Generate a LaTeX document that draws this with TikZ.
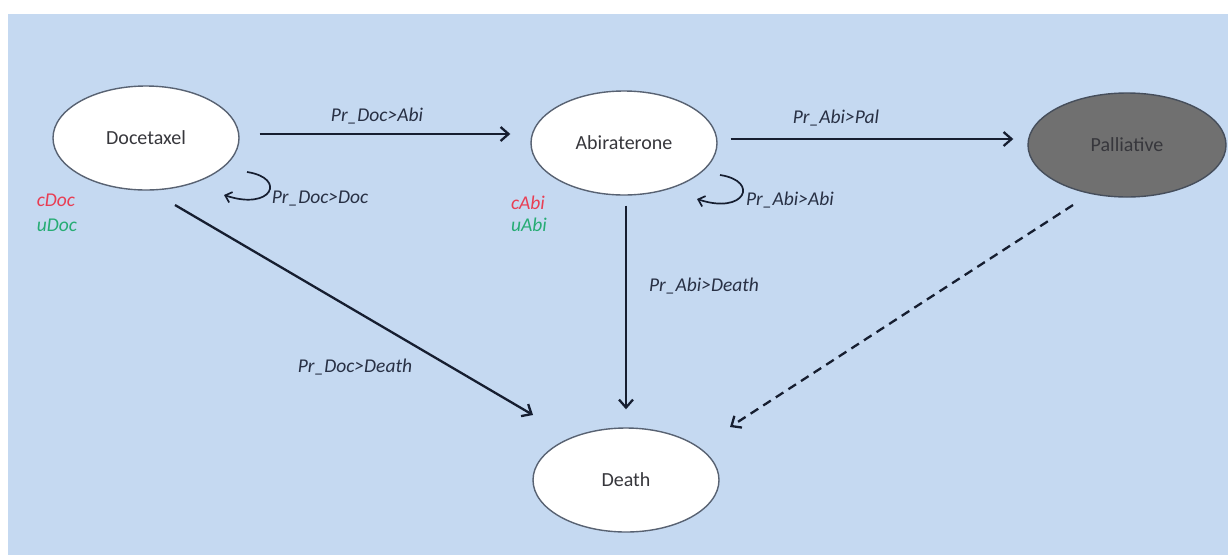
\documentclass[tikz,border=0pt]{standalone}
\usepackage{fontspec}
\setmainfont{Carlito}
\usetikzlibrary{arrows.meta,shapes.geometric,calc}

\definecolor{panel}{RGB}{197,217,241}
\definecolor{wire}{RGB}{22,30,48}
\definecolor{rim}{RGB}{88,98,114}
\definecolor{stateink}{RGB}{55,55,60}
\definecolor{probink}{RGB}{40,48,68}
\definecolor{palfill}{RGB}{112,112,112}
\definecolor{costred}{RGB}{232,62,84}
\definecolor{utilgreen}{RGB}{38,172,116}

\tikzset{
  state/.style={ellipse, draw=rim, line width=1.4pt, fill=white,
    minimum width=186pt, minimum height=104pt, inner sep=0pt,
    font=\fontsize{20}{22}\selectfont, text=stateink},
  prob/.style={font=\fontsize{19.5}{21}\selectfont\itshape, text=probink, inner sep=0pt},
  tag/.style={font=\fontsize{19.5}{21}\selectfont\itshape, inner sep=0pt},
  arr/.style={draw=wire, line width=2.3pt,
    -{Straight Barb[length=8pt,width=14pt,line width=2.3pt]}},
  loop/.style={draw=wire, line width=1.7pt,
    -{Straight Barb[length=6pt,width=11pt,line width=1.7pt]}},
}

\begin{document}
\begin{tikzpicture}[x=1pt,y=-1pt]
  \useasboundingbox (0,0) rectangle (1228,555);
  \fill[panel] (8,14) rectangle (1228,555);

  % health states
  \node[state] (doc) at (146,138) {Docetaxel};
  \node[state] (abi) at (624,143) {Abiraterone};
  \node[state, fill=palfill, draw=rim!80!black, minimum width=198pt] (pal) at (1127,145) {Palliative};
  \node[state] (death) at (626,480) {Death};

  % cost and utility tags
  \node[tag, text=costred] (cdoc) at (56,200) {cDoc};
  \node[tag, text=utilgreen] (udoc) at (57,225) {uDoc};
  \node[tag, text=costred] (cabi) at (528,203) {cAbi};
  \node[tag, text=utilgreen] (uabi) at (529,225) {uAbi};

  % forward transitions
  \draw[arr] ($(doc.east)+(20,-4)$) -- ($(abi.west)+(-20,-9)$);
  \draw[arr] ($(abi.east)+(13,-4)$) -- ($(pal.west)+(-14,-6)$);
  \draw[arr] ($(doc.center)+(29,67)$) -- ($(death.center)+(-93,-65)$);
  \draw[arr] ($(abi.south)+(2,10)$) -- ($(death.north)+(0,-18)$);
  \draw[arr, dashed, dash pattern=on 9pt off 6pt] ($(pal.center)+(-54,60)$) -- ($(death.center)+(104,-53)$);

  % staying in the same state
  \draw[loop] ($(doc.center)+(101,34)$) .. controls +(40,6) and +(48,16) .. ($(doc.center)+(78,57)$);
  \draw[loop] ($(abi.center)+(96,32)$) .. controls +(40,6) and +(48,16) .. ($(abi.center)+(73,56)$);

  % transition probabilities
  \node[prob] (pdocabi) at (377,116) {Pr\_Doc>Abi};
  \node[prob] (pabipal) at (836,118) {Pr\_Abi>Pal};
  \node[prob] (pdocdoc) at (320,199) {Pr\_Doc>Doc};
  \node[prob] (pabiabi) at (790,200) {Pr\_Abi>Abi};
  \node[prob] (pabidth) at (704,286) {Pr\_Abi>Death};
  \node[prob] (pdocdth) at (355,367) {Pr\_Doc>Death};
\end{tikzpicture}
\end{document}
